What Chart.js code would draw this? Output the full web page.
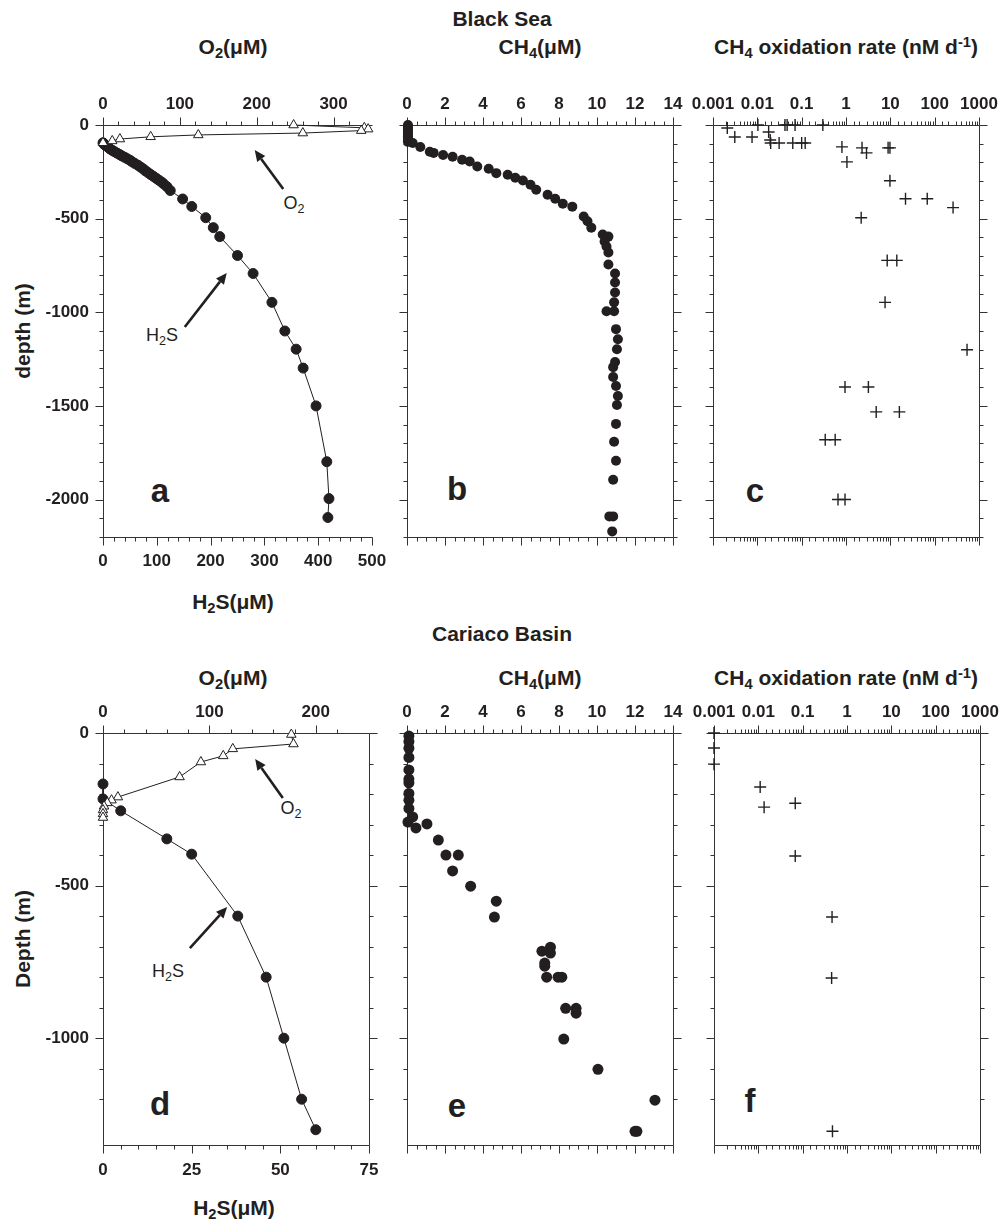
<!DOCTYPE html>
<html>
<head>
<meta charset="utf-8">
<script src="https://cdn.jsdelivr.net/npm/chart.js@4.4.1/dist/chart.umd.min.js"></script>
<style>
  body { margin: 0; background: #fff; }
  #fig { position: relative; width: 1004px; height: 1222px; overflow: hidden;
         font-family: "Liberation Sans", Arial, Helvetica, sans-serif; color: #231f20; }
  #fig canvas { position: absolute; }
  .t { position: absolute; transform: translate(-50%, -50%); white-space: nowrap; line-height: 1; }
  .b { font-weight: bold; font-size: 21px; }
  .lbl { font-size: 18px; }
  .ltr { font-weight: bold; font-size: 33px; }
  .t sub { font-size: 70%; position: relative; top: 0.3em; vertical-align: baseline; }
  .t sup { font-size: 70%; position: relative; top: -0.45em; vertical-align: baseline; }
  .rot { transform: translate(-50%, -50%) rotate(-90deg); }
</style>
</head>
<body>
<div id="fig">
  <div class="t b" style="left:502px;top:18px">Black Sea</div>
  <div class="t b" style="left:233px;top:46px">O<sub>2</sub>(&mu;M)</div>
  <div class="t b" style="left:540px;top:46px">CH<sub>4</sub>(&mu;M)</div>
  <div class="t b" style="left:846px;top:46px">CH<sub>4</sub> oxidation rate (nM d<sup>-1</sup>)</div>
  <div class="t b" style="left:233px;top:601px">H<sub>2</sub>S(&mu;M)</div>
  <div class="t b rot" style="left:22px;top:331px">depth (m)</div>

  <div class="t b" style="left:502px;top:633px">Cariaco Basin</div>
  <div class="t b" style="left:233px;top:677px">O<sub>2</sub>(&mu;M)</div>
  <div class="t b" style="left:540px;top:677px">CH<sub>4</sub>(&mu;M)</div>
  <div class="t b" style="left:846px;top:677px">CH<sub>4</sub> oxidation rate (nM d<sup>-1</sup>)</div>
  <div class="t b" style="left:234px;top:1207px">H<sub>2</sub>S(&mu;M)</div>
  <div class="t b rot" style="left:22px;top:939px">Depth (m)</div>

  <div class="t ltr" style="left:160px;top:490px">a</div>
  <div class="t ltr" style="left:457px;top:488px">b</div>
  <div class="t ltr" style="left:755px;top:490px">c</div>
  <div class="t ltr" style="left:160px;top:1103px">d</div>
  <div class="t ltr" style="left:457px;top:1105px">e</div>
  <div class="t ltr" style="left:750px;top:1100px">f</div>

  <div class="t lbl" style="left:294px;top:203px">O<sub>2</sub></div>
  <div class="t lbl" style="left:162px;top:335px">H<sub>2</sub>S</div>
  <div class="t lbl" style="left:291px;top:808px">O<sub>2</sub></div>
  <div class="t lbl" style="left:168px;top:971px">H<sub>2</sub>S</div>
</div>

<script>
// ---------------- Black Sea ----------------
// O2 (uM) profile, top axis of panel a
const bsO2Depth = [0, -15, -22, -30, -43, -53, -63, -75, -85, -95];
const bsO2 = [248, 340, 345, 336, 260, 124, 62, 22, 12, 0];

// H2S (uM) profile, bottom axis of panel a
const bsH2SDepth = [-95, -100, -105, -110, -115, -120, -128, -135, -142, -150, -158, -165, -172, -180,
  -188, -196, -205, -215, -225, -235, -245, -255, -265, -275, -285, -295, -305, -315, -330, -350,
  -395, -435, -495, -548, -596, -697, -793, -947, -1100, -1197, -1298, -1500, -1798, -1995, -2096];
const bsH2S = [0, 1, 3, 5, 8, 10, 13, 17, 21, 26, 31, 35, 40, 45,
  50, 54, 59, 65, 70, 75, 79, 84, 89, 94, 99, 104, 109, 113, 119, 125,
  148, 165, 191, 205, 217, 250, 279, 314, 338, 359, 372, 396, 416, 420, 418];

// CH4 (uM), panel b
const bsCH4Depth = [0, -10, -20, -30, -40, -50, -60, -70, -80, -90,
  -96, -117, -143, -149, -160, -170, -186, -195, -222, -234,
  -257, -266, -282, -296, -319, -346, -372, -394, -420, -436,
  -489, -514, -548, -585, -596, -622, -649, -681, -745, -793,
  -841, -894, -947, -995, -995, -1090, -1144, -1197, -1266, -1293,
  -1346, -1394, -1447, -1495, -1596, -1691, -1793, -1894, -2090, -2090, -2170];
const bsCH4 = [0.05, 0.05, 0.05, 0.05, 0.05, 0.05, 0.05, 0.05, 0.05, 0.05,
  0.3, 0.7, 1.2, 1.4, 1.9, 2.4, 2.9, 3.3, 3.7, 4.3,
  4.7, 5.3, 5.7, 6.1, 6.5, 6.8, 7.4, 7.8, 8.2, 8.7,
  9.3, 9.5, 9.7, 10.3, 10.6, 10.4, 10.5, 10.6, 10.6, 10.95,
  10.95, 10.95, 10.9, 10.5, 10.9, 11.0, 11.1, 11.05, 10.95, 10.85,
  10.85, 11.0, 11.1, 11.05, 11.0, 10.9, 11.0, 10.85, 10.65, 10.85, 10.8];

// CH4 oxidation rate (nM/d), panel c
const bsRate = [0.0021, 0.0031, 0.0076, 0.0103, 0.018, 0.0195, 0.02, 0.031, 0.042, 0.047,
  0.063, 0.071, 0.1, 0.12, 0.30, 0.81, 1.05, 2.3, 2.9, 8.9,
  9.8, 9.8, 22, 68, 260, 2.2, 8.5, 14, 7.6, 537,
  0.95, 3.2, 4.8, 16, 0.34, 0.57, 0.66, 0.95];
const bsRateDepth = [-16, -64, -64, 0, -37, -80, -96, -96, 0, 0,
  -96, 0, -96, -96, 0, -117, -197, -122, -149, -122,
  -122, -298, -394, -394, -441, -495, -723, -723, -947, -1200,
  -1399, -1399, -1532, -1532, -1681, -1681, -2000, -2000];

// ---------------- Cariaco Basin ----------------
const caO2Depth = [-5, -36, -52, -75, -95, -144, -210, -220, -229, -240, -252, -265, -277];
const caO2 = [177, 179, 122, 113, 92, 72, 14, 8, 4, 1, 0, 0, 0];

const caH2SDepth = [-167, -216, -255, -347, -397, -600, -800, -1000, -1200, -1300];
const caH2S = [0, 0, 5, 18, 25, 38, 46, 51, 56, 60];

const caCH4Depth = [-10, -28, -50, -80, -121, -151, -163, -198, -220, -247,
  -275, -292, -298, -311, -351, -400, -400, -452, -502, -551,
  -603, -702, -715, -721, -754, -764, -800, -800, -800, -902,
  -902, -918, -1003, -1102, -1203, -1305, -1305];
const caCH4 = [0.1, 0.1, 0.1, 0.1, 0.1, 0.1, 0.1, 0.1, 0.1, 0.1,
  0.3, 0.05, 1.05, 0.47, 1.65, 2.05, 2.7, 2.4, 3.35, 4.7,
  4.6, 7.55, 7.1, 7.55, 7.25, 7.25, 7.35, 7.95, 8.15, 8.35,
  8.9, 8.9, 8.25, 10.05, 13.05, 12.0, 12.1];

const caRate = [0.001, 0.001, 0.001, 0.011, 0.0135, 0.068, 0.068, 0.46, 0.45, 0.47];
const caRateDepth = [0, -49, -102, -177, -243, -230, -403, -603, -803, -1305];

// annotation arrows [headX, headY, tailX, tailY] in the panel's bottom-axis / depth units
const bsArrows = [[282, -134, 335, -342], [230, -790, 152, -1079]];
const caArrows = [[42.9, -85, 50.7, -213], [35.0, -570, 24.5, -705]];

const FONT = '"Liberation Sans", Arial, Helvetica, sans-serif';
const INK = '#231f20';
const AXIS = '#333333';
const TICK_SIZE = 17;

function pts(xs, ys) {
  return xs.map((x, i) => ({ x: x, y: ys[i] }));
}

function isPow10(v) {
  const l = Math.log10(v);
  return Math.abs(l - Math.round(l)) < 1e-6;
}

function onStep(v, step) {
  return Math.abs(v / step - Math.round(v / step)) < 1e-6;
}

// fixed axis box sizes so every plot area lands where the figure has it
function fixSize(size) {
  return function (scale) {
    if (scale.isHorizontal()) scale.height = size; else scale.width = size;
    scale.paddingLeft = 0; scale.paddingRight = 0;
    scale.paddingTop = 0; scale.paddingBottom = 0;
  };
}

function linAxis(pos, min, max, step, labelEvery, pad) {
  return {
    type: 'linear', position: pos, min: min, max: max,
    grid: { display: false, drawTicks: false },
    border: { display: false },
    ticks: {
      stepSize: step, autoSkip: false, maxRotation: 0, minRotation: 0,
      display: labelEvery > 0, padding: pad || 0, color: INK,
      font: { family: FONT, size: TICK_SIZE, weight: 'bold' },
      callback: v => (labelEvery > 0 && onStep(v, labelEvery)) ? String(v) : ''
    }
  };
}

function logAxis(pos, labels, pad) {
  return {
    type: 'logarithmic', position: pos, min: 0.001, max: 1000,
    grid: { display: false, drawTicks: false },
    border: { display: false },
    ticks: {
      autoSkip: false, maxRotation: 0, minRotation: 0,
      display: labels, padding: pad || 0, color: INK,
      font: { family: FONT, size: TICK_SIZE, weight: 'bold' },
      callback: v => isPow10(v) ? String(Number(v.toPrecision(1))) : ''
    }
  };
}

// axis lines with outward major/minor tick marks
const framePlugin = {
  id: 'frame',
  beforeDatasetsDraw(chart, args, opts) {
    const ctx = chart.ctx;
    const a = chart.chartArea;
    ctx.save();
    ctx.strokeStyle = AXIS;
    ctx.lineWidth = 1;
    ctx.beginPath();
    opts.axes.forEach(id => {
      const s = chart.scales[id];
      const pos = s.options.position;
      const major = opts.major[id];
      const minor = opts.minor[id];
      const L = Math.round(a.left) + 0.5, R = Math.round(a.right) + 0.5;
      const T = Math.round(a.top) + 0.5, B = Math.round(a.bottom) + 0.5;
      if (pos === 'left') { ctx.moveTo(L, T); ctx.lineTo(L, B); }
      if (pos === 'right') { ctx.moveTo(R, T); ctx.lineTo(R, B); }
      if (pos === 'top') { ctx.moveTo(L, T); ctx.lineTo(R, T); }
      if (pos === 'bottom') { ctx.moveTo(L, B); ctx.lineTo(R, B); }
      s.ticks.forEach(t => {
        const v = t.value;
        let isMaj;
        if (major === 'log') {
          isMaj = isPow10(v);
        } else {
          if (!onStep(v, minor)) return;
          isMaj = onStep(v, major);
        }
        const len = isMaj ? 8 : 4;
        const p = Math.round(s.getPixelForValue(v)) + 0.5;
        if (pos === 'left') { ctx.moveTo(L, p); ctx.lineTo(L - len, p); }
        if (pos === 'right') { ctx.moveTo(R, p); ctx.lineTo(R + len, p); }
        if (pos === 'top') { ctx.moveTo(p, T); ctx.lineTo(p, T - len); }
        if (pos === 'bottom') { ctx.moveTo(p, B); ctx.lineTo(p, B + len); }
      });
    });
    ctx.stroke();
    ctx.restore();
  }
};

// arrows pointing at the profiles
const arrowPlugin = {
  id: 'arrows',
  afterDatasetsDraw(chart, args, opts) {
    if (!opts.list) return;
    const ctx = chart.ctx;
    const sx = chart.scales.x, sy = chart.scales.y;
    ctx.save();
    ctx.strokeStyle = INK;
    ctx.fillStyle = INK;
    ctx.lineWidth = 2.6;
    opts.list.forEach(ar => {
      const hx = sx.getPixelForValue(ar[0]), hy = sy.getPixelForValue(ar[1]);
      const tx = sx.getPixelForValue(ar[2]), ty = sy.getPixelForValue(ar[3]);
      const ang = Math.atan2(hy - ty, hx - tx);
      const hl = 11, hw = 5;
      const bx = hx - hl * Math.cos(ang), by = hy - hl * Math.sin(ang);
      ctx.beginPath();
      ctx.moveTo(tx, ty);
      ctx.lineTo(bx, by);
      ctx.stroke();
      ctx.beginPath();
      ctx.moveTo(hx, hy);
      ctx.lineTo(bx + hw * Math.sin(ang), by - hw * Math.cos(ang));
      ctx.lineTo(bx - hw * Math.sin(ang), by + hw * Math.cos(ang));
      ctx.closePath();
      ctx.fill();
    });
    ctx.restore();
  }
};

const fig = document.getElementById('fig');

function makePanel(rect, margin, scales, datasets, frame, arrows) {
  const cv = document.createElement('canvas');
  cv.width = rect.r - rect.l + margin.l + margin.r;
  cv.height = rect.b - rect.t + margin.t + margin.b;
  cv.style.left = (rect.l - margin.l) + 'px';
  cv.style.top = (rect.t - margin.t) + 'px';
  fig.appendChild(cv);
  scales.x.afterFit = fixSize(margin.b);
  scales.x2.afterFit = fixSize(margin.t);
  scales.y.afterFit = fixSize(margin.l);
  scales.y2.afterFit = fixSize(margin.r);
  return new Chart(cv, {
    type: 'scatter',
    data: { datasets: datasets },
    options: {
      responsive: false,
      animation: false,
      events: [],
      layout: { padding: 0, autoPadding: false },
      plugins: {
        legend: { display: false },
        tooltip: { enabled: false },
        frame: frame,
        arrows: { list: arrows || null }
      },
      scales: scales
    },
    plugins: [framePlugin, arrowPlugin]
  });
}

function lineSet(xs, ys, axis, style) {
  const tri = style === 'triangle';
  return {
    data: pts(xs, ys), xAxisID: axis, showLine: true, clip: false,
    borderColor: INK, borderWidth: 1, tension: 0,
    pointStyle: tri ? 'triangle' : 'circle',
    pointRadius: tri ? 5.5 : 5,
    pointBackgroundColor: tri ? '#ffffff' : INK,
    pointBorderColor: INK, pointBorderWidth: 1
  };
}

function dotSet(xs, ys, r) {
  return {
    data: pts(xs, ys), xAxisID: 'x2', clip: false,
    pointStyle: 'circle', pointRadius: r,
    pointBackgroundColor: INK, pointBorderColor: INK, pointBorderWidth: 0
  };
}

function crossSet(xs, ys) {
  return {
    data: pts(xs, ys), xAxisID: 'x2', clip: false,
    pointStyle: 'cross', pointRadius: 6,
    pointBorderColor: INK, pointBorderWidth: 1.4
  };
}

const rowTop = { t: 125, b: 537 };
const rowBot = { t: 733, b: 1145 };
const depthMajor = 500, depthMinor = 100;

// panel a
makePanel(
  { l: 103, r: 372, t: rowTop.t, b: rowTop.b }, { l: 75, r: 25, t: 40, b: 40 },
  {
    x: linAxis('bottom', 0, 500, 20, 100, 14),
    x2: linAxis('top', 0, 350, 20, 100, 10),
    y: linAxis('left', -2200, 0, 100, 500, 14),
    y2: linAxis('right', -2200, 0, 100, 0)
  },
  [lineSet(bsO2, bsO2Depth, 'x2', 'triangle'), lineSet(bsH2S, bsH2SDepth, 'x', 'circle')],
  { axes: ['x', 'x2', 'y'], major: { x: 100, x2: 100, y: depthMajor }, minor: { x: 20, x2: 20, y: depthMinor } },
  bsArrows
);

// panel b
makePanel(
  { l: 407, r: 673, t: rowTop.t, b: rowTop.b }, { l: 20, r: 20, t: 40, b: 20 },
  {
    x: linAxis('bottom', 0, 14, 0.5, 0),
    x2: linAxis('top', 0, 14, 0.5, 2, 10),
    y: linAxis('left', -2200, 0, 100, 0),
    y2: linAxis('right', -2200, 0, 100, 0)
  },
  [dotSet(bsCH4, bsCH4Depth, 5)],
  { axes: ['x', 'x2', 'y', 'y2'], major: { x: 2, x2: 2, y: depthMajor, y2: depthMajor }, minor: { x: 0.5, x2: 0.5, y: depthMinor, y2: depthMinor } }
);

// panel c
makePanel(
  { l: 713, r: 979, t: rowTop.t, b: rowTop.b }, { l: 35, r: 25, t: 40, b: 20 },
  {
    x: logAxis('bottom', false),
    x2: logAxis('top', true, 10),
    y: linAxis('left', -2200, 0, 100, 0),
    y2: linAxis('right', -2200, 0, 100, 0)
  },
  [crossSet(bsRate, bsRateDepth)],
  { axes: ['x', 'x2', 'y', 'y2'], major: { x: 'log', x2: 'log', y: depthMajor, y2: depthMajor }, minor: { x: 0, x2: 0, y: depthMinor, y2: depthMinor } }
);

// panel d
makePanel(
  { l: 103, r: 369, t: rowBot.t, b: rowBot.b }, { l: 75, r: 25, t: 40, b: 40 },
  {
    x: linAxis('bottom', 0, 75, 5, 25, 15),
    x2: linAxis('top', 0, 250, 20, 100, 10),
    y: linAxis('left', -1350, 0, 100, 500, 14),
    y2: linAxis('right', -1350, 0, 100, 0)
  },
  [lineSet(caO2, caO2Depth, 'x2', 'triangle'), lineSet(caH2S, caH2SDepth, 'x', 'circle')],
  { axes: ['x', 'x2', 'y', 'y2'], major: { x: 25, x2: 100, y: depthMajor, y2: depthMajor }, minor: { x: 5, x2: 20, y: depthMinor, y2: depthMinor } },
  caArrows
);

// panel e
makePanel(
  { l: 407, r: 673, t: rowBot.t, b: rowBot.b }, { l: 20, r: 20, t: 40, b: 20 },
  {
    x: linAxis('bottom', 0, 14, 0.5, 0),
    x2: linAxis('top', 0, 14, 0.5, 2, 10),
    y: linAxis('left', -1350, 0, 100, 0),
    y2: linAxis('right', -1350, 0, 100, 0)
  },
  [dotSet(caCH4, caCH4Depth, 5.5)],
  { axes: ['x', 'x2', 'y', 'y2'], major: { x: 2, x2: 2, y: depthMajor, y2: depthMajor }, minor: { x: 0.5, x2: 0.5, y: depthMinor, y2: depthMinor } }
);

// panel f
makePanel(
  { l: 714, r: 980, t: rowBot.t, b: rowBot.b }, { l: 35, r: 24, t: 40, b: 20 },
  {
    x: logAxis('bottom', false),
    x2: logAxis('top', true, 10),
    y: linAxis('left', -1350, 0, 100, 0),
    y2: linAxis('right', -1350, 0, 100, 0)
  },
  [crossSet(caRate, caRateDepth)],
  { axes: ['x', 'x2', 'y', 'y2'], major: { x: 'log', x2: 'log', y: depthMajor, y2: depthMajor }, minor: { x: 0, x2: 0, y: depthMinor, y2: depthMinor } }
);
</script>
</body>
</html>
